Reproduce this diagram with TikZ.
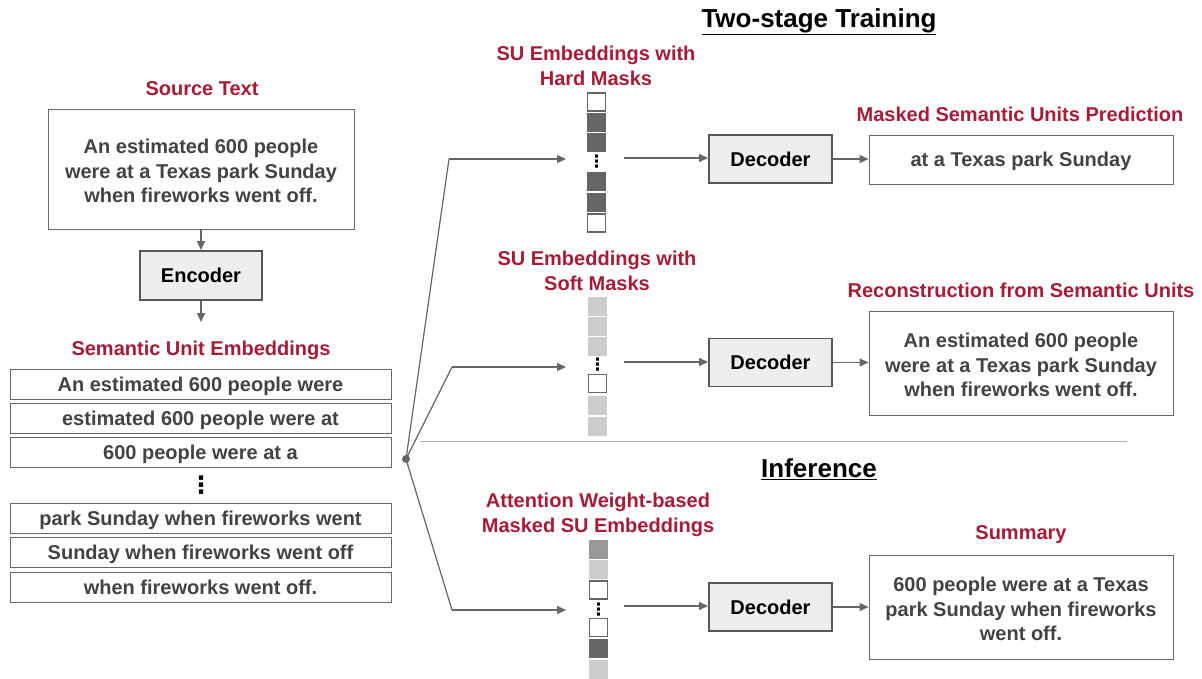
\documentclass[tikz,border=0pt]{standalone}
\usepackage{fontspec}
\setmainfont{Liberation Sans}
\newfontfamily\dejavu{DejaVu Sans}
\usetikzlibrary{arrows.meta}
\definecolor{txt}{HTML}{434343}
\definecolor{redl}{HTML}{A61C36}
\definecolor{ln}{HTML}{666666}
\definecolor{sqdark}{HTML}{666666}
\definecolor{sqmid}{HTML}{999999}
\definecolor{sqlight}{HTML}{CCCCCC}
\definecolor{decfill}{HTML}{EEEEEE}
\begin{document}
\begin{tikzpicture}[x=1pt,y=-1pt,
  every node/.style={font=\fontsize{20}{24.5}\selectfont\bfseries, text=txt},
  box/.style={draw=ln, line width=1pt, align=center, inner sep=0pt},
  rowbox/.style={box, minimum width=381pt, minimum height=30pt, text depth=2pt, text height=16pt},
  outbox/.style={box, minimum width=304pt},
  decbox/.style={draw=ln!85!black, line width=1.8pt, fill=decfill, inner sep=0pt, minimum width=123pt, minimum height=48pt, text=black, text depth=2pt, text height=16pt},
  lbl/.style={text=redl, align=center, font=\fontsize{20}{25}\selectfont\bfseries, yshift=-2pt},
  ttl/.style={text=black, font=\fontsize{26}{28}\selectfont\bfseries, yshift=-2pt},
  arr/.style={-{Triangle[length=9pt,width=8pt]}, draw=ln, line width=1.2pt},
  ln1/.style={draw=ln, line width=1.2pt},
  sqw/.style={draw=ln, line width=1.2pt, fill=white, minimum size=18pt, inner sep=0pt},
  sqd/.style={fill=sqdark, minimum size=19pt, inner sep=0pt},
  sqm/.style={fill=sqmid, minimum size=19pt, inner sep=0pt},
  sql/.style={fill=sqlight, minimum size=19pt, inner sep=0pt},
  vdots/.style={text=black, font=\dejavu\fontsize{17}{17}\selectfont\bfseries, inner sep=0pt},
  bigdots/.style={text=black, font=\dejavu\fontsize{24}{24}\selectfont\bfseries, inner sep=0pt}
]
\useasboundingbox (0,0) rectangle (1202,678);
\fill[white] (0,0) rectangle (1202,678);

% titles
\node[ttl] (t1) at (819,20) {\underline{Two-stage Training}};
\node[ttl] (t2) at (819,467) {\underline{Inference}};
\draw[draw=black!30, line width=1pt] (420,441) -- (1127,441);

% left column
\node[lbl] (srcl) at (202,87) {Source Text};
\node[box, minimum width=306pt, minimum height=120pt] (src) at (201,169) {};
\node[align=center] (srct) at (201,171) {An estimated 600 people\\were at a Texas park Sunday\\when fireworks went off.};
\node[decbox, minimum width=122pt, minimum height=49pt] (enc) at (201,275.5) {Encoder};
\coordinate (encout) at (201,322);
\draw[arr] (src.south) -- (enc.north);
\draw[arr] (enc.south) -- (encout);
\node[lbl] (sue) at (201,348) {Semantic Unit Embeddings};
\node[rowbox] (r1) at (200.5,384) {An estimated 600 people were};
\node[rowbox] (r2) at (200.5,418) {estimated 600 people were at};
\node[rowbox] (r3) at (200.5,452) {600 people were at a};
\node[bigdots] (rd) at (201,485) {⋮};
\node[rowbox] (r4) at (200.5,518) {park Sunday when fireworks went};
\node[rowbox] (r5) at (200.5,552) {Sunday when fireworks went off};
\node[rowbox] (r6) at (200.5,587.5) {when fireworks went off.};

% junction
\fill[ln] (406,459) circle (4pt);
\coordinate (J) at (406,459);
\coordinate (c1) at (449,159);
\coordinate (c2) at (452,367);
\coordinate (c3) at (452,610);
\coordinate (e1) at (566,159);
\coordinate (e2) at (566,367);
\coordinate (e3) at (566,610);
\draw[ln1] (J) -- (c1);
\draw[ln1] (J) -- (c2);
\draw[ln1] (J) -- (c3);
\draw[arr] (c1) -- (e1);
\draw[arr] (c2) -- (e2);
\draw[arr] (c3) -- (e3);

% column 1: hard masks
\node[lbl] (l1) at (596,64) {SU Embeddings with\\Hard Masks};
\node[sqw] (a1) at (596.5,102) {};
\node[sqd] (a2) at (596.5,122) {};
\node[sqd] (a3) at (596.5,142) {};
\node[vdots] (ad) at (596.5,161.5) {⋮};
\node[sqd] (a4) at (596.5,181.5) {};
\node[sqd] (a5) at (596.5,202) {};
\node[sqw] (a6) at (596.5,223) {};

% column 2: soft masks
\node[lbl] (l2) at (597,269) {SU Embeddings with\\Soft Masks};
\node[sql] (b1) at (597.5,306) {};
\node[sql] (b2) at (597.5,326) {};
\node[sql] (b3) at (597.5,346) {};
\node[vdots] (bd) at (597.5,364.5) {⋮};
\node[sqw] (b4) at (597.5,383.5) {};
\node[sql] (b5) at (597.5,405) {};
\node[sql] (b6) at (597.5,426) {};

% column 3: attention based
\node[lbl] (l3) at (598,513) {Attention Weight-based\\Masked SU Embeddings};
\node[sqm] (g1) at (598.5,549.5) {};
\node[sql] (g2) at (598.5,569.5) {};
\node[sqw] (g3) at (598.5,590) {};
\node[vdots] (gd) at (598.5,609.5) {⋮};
\node[sqw] (g4) at (598.5,627.5) {};
\node[sqd] (g5) at (598.5,648) {};
\node[sql] (g6) at (598.5,669) {};

% decoders
\node[decbox] (d1) at (770.5,159) {Decoder};
\node[decbox] (d2) at (770.5,362.5) {Decoder};
\node[decbox] (d3) at (770.5,607) {Decoder};
\coordinate (s1) at (624,158);
\coordinate (s2) at (624,362);
\coordinate (s3) at (624,606);
\draw[arr] (s1) -- (d1.west |- s1);
\draw[arr] (s2) -- (d2.west |- s2);
\draw[arr] (s3) -- (d3.west |- s3);

% outputs
\node[lbl] (o1l) at (1020,112) {Masked Semantic Units Prediction};
\node[outbox, minimum height=49pt, text depth=2pt, text height=16pt] (o1) at (1021,159.5) {at a Texas park Sunday};
\node[lbl] (o2l) at (1021,288) {Reconstruction from Semantic Units};
\node[outbox, minimum height=104pt] (o2) at (1021,363) {};
\node[align=center] (o2t) at (1021,365)
  {An estimated 600 people\\were at a Texas park Sunday\\when fireworks went off.};
\node[lbl] (o3l) at (1021,533) {Summary};
\node[outbox, minimum height=104pt] (o3) at (1021,607) {};
\node[align=center] (o3t) at (1021,609)
  {600 people were at a Texas\\park Sunday when fireworks\\went off.};
\draw[arr] (d1.east) -- (o1.west |- d1.east);
\draw[arr] (d2.east) -- (o2.west |- d2.east);
\draw[arr] (d3.east) -- (o3.west |- d3.east);
\end{tikzpicture}
\end{document}
